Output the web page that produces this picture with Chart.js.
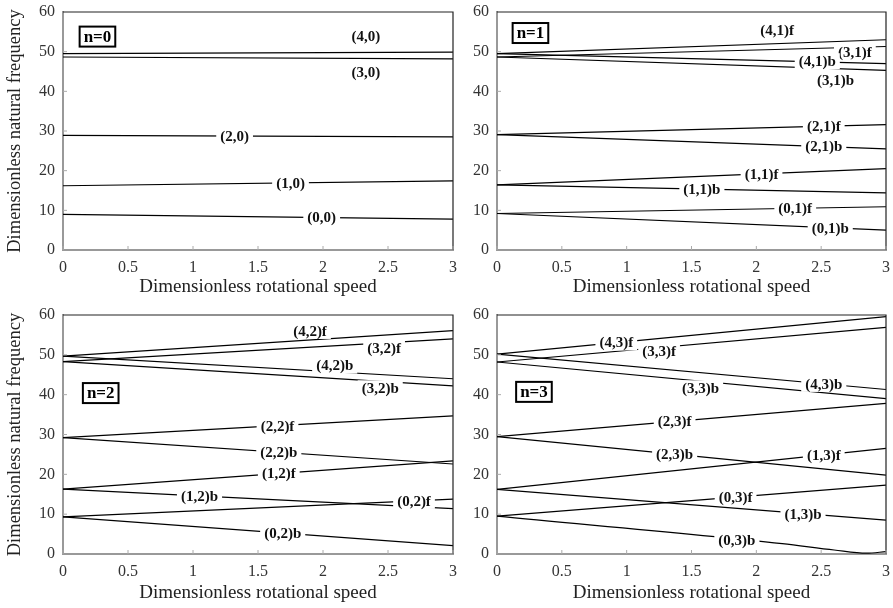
<!DOCTYPE html>
<html>
<head>
<meta charset="utf-8">
<script src="https://cdn.jsdelivr.net/npm/chart.js@4/dist/chart.umd.min.js"></script>
<style>
  body { margin: 0; background: #fff; overflow: hidden; }
  #wrap { position: relative; width: 893px; height: 608px; overflow: hidden; }
  canvas { position: absolute; }
</style>
</head>
<body>
<div id="wrap">
  <canvas id="c0" width="465" height="306" style="left:0;top:-6px"></canvas>
  <canvas id="c1" width="458" height="306" style="left:440px;top:-6px"></canvas>
  <canvas id="c2" width="465" height="311" style="left:0;top:297px"></canvas>
  <canvas id="c3" width="458" height="311" style="left:440px;top:297px"></canvas>
</div>
<script>
// ---- data ----
var xTicks = [0, 0.5, 1, 1.5, 2, 2.5, 3];
var speedEnds = [0, 3];

// n = 0
var n0Names = ['(4,0)', '(3,0)', '(2,0)', '(1,0)', '(0,0)'];
var n0Start = [49.5, 48.65, 28.9, 16.2, 9.0];
var n0End   = [49.9, 48.2, 28.5, 17.45, 7.8];
var n0LabX  = [2.33, 2.33, 1.32, 1.75, 1.99];
var n0LabY  = [53.9, 44.9, 28.7, 16.9, 8.2];

// n = 1
var n1Names = ['(4,1)f', '(3,1)f', '(4,1)b', '(3,1)b', '(2,1)f', '(2,1)b', '(1,1)f', '(1,1)b', '(0,1)f', '(0,1)b'];
var n1Start = [49.5, 48.65, 49.5, 48.65, 29.1, 29.1, 16.4, 16.4, 9.2, 9.2];
var n1End   = [53.0, 51.3, 47.0, 45.3, 31.6, 25.5, 20.5, 14.4, 10.9, 5.0];
var n1LabX  = [2.16, 2.76, 2.47, 2.61, 2.52, 2.52, 2.04, 1.58, 2.30, 2.57];
var n1LabY  = [55.5, 49.8, 47.6, 42.8, 31.2, 26.1, 19.2, 15.35, 10.5, 5.6];

// n = 2
var n2Names = ['(4,2)f', '(3,2)f', '(4,2)b', '(3,2)b', '(2,2)f', '(2,2)b', '(1,2)f', '(1,2)b', '(0,2)f', '(0,2)b'];
var n2Start = [49.7, 48.3, 49.7, 48.3, 29.2, 29.2, 16.3, 16.3, 9.3, 9.3];
var n2End   = [56.1, 54.0, 44.0, 42.2, 34.7, 22.6, 23.4, 11.4, 13.8, 2.1];
var n2LabX  = [1.90, 2.47, 2.09, 2.44, 1.65, 1.66, 1.66, 1.05, 2.70, 1.69];
var n2LabY  = [56.0, 51.6, 47.3, 41.6, 32.2, 25.55, 20.2, 14.6, 13.35, 5.25];

// n = 3 (the (0,3)b curve is read at several speeds)
var n3Names = ['(4,3)f', '(3,3)f', '(4,3)b', '(3,3)b', '(2,3)f', '(2,3)b', '(1,3)f', '(1,3)b', '(0,3)f'];
var n3Start = [50.2, 48.2, 50.2, 48.2, 29.45, 29.45, 16.2, 16.2, 9.5];
var n3End   = [59.6, 56.9, 41.3, 39.0, 37.8, 19.8, 26.5, 8.5, 17.3];
var n3LabX  = [0.92, 1.25, 2.52, 1.57, 1.37, 1.37, 2.52, 2.36, 1.84];
var n3LabY  = [53.1, 50.9, 42.7, 41.6, 33.3, 25.0, 24.85, 10.1, 14.3];
var n3CurveName = '(0,3)b';
var n3CurveX = [0, 2.2, 2.6, 2.85, 3];
var n3CurveY = [9.5, 2.6, 1.0, 0.2, 0.6];
var n3CurveLab = [1.85, 3.5];

var modeText = ['n=0', 'n=1', 'n=2', 'n=3'];
var modeBoxX = [0.265, 0.258, 0.29, 0.285];
var modeBoxY = [53.8, 54.7, 40.4, 40.7];

// ---- drawing ----
var SERIF = '"Liberation Serif", "Times New Roman", serif';

function straightSets(starts, ends) {
  return starts.map(function (s, i) {
    return [{x: speedEnds[0], y: s}, {x: speedEnds[1], y: ends[i]}];
  });
}

function lineLabels(names, xs, ys) {
  return names.map(function (t, i) { return {text: t, x: xs[i], y: ys[i]}; });
}

// curve labels with white background + frame + inner ticks + mode box
var decorPlugin = {
  id: 'decor',
  afterDatasetsDraw: function (chart) {
    var ctx = chart.ctx, a = chart.chartArea;
    var xs = chart.scales.x, ys = chart.scales.y;
    var o = chart.options.plugins.decor;
    ctx.save();
    // top & right frame
    ctx.strokeStyle = '#222';
    ctx.lineWidth = 1.2;
    ctx.beginPath();
    ctx.moveTo(a.left, a.top); ctx.lineTo(a.right, a.top); ctx.lineTo(a.right, a.bottom);
    ctx.stroke();
    // inner tick marks
    ctx.strokeStyle = '#aaa';
    ctx.lineWidth = 1;
    ctx.beginPath();
    xTicks.forEach(function (v) {
      var px = xs.getPixelForValue(v);
      ctx.moveTo(px, a.bottom); ctx.lineTo(px, a.bottom - 4);
    });
    [10, 20, 30, 40, 50].forEach(function (v) {
      var py = ys.getPixelForValue(v);
      ctx.moveTo(a.left, py); ctx.lineTo(a.left + 4, py);
    });
    ctx.stroke();
    // curve labels
    ctx.font = 'bold 15px ' + SERIF;
    ctx.textAlign = 'center';
    ctx.textBaseline = 'middle';
    o.labels.forEach(function (l) {
      var px = xs.getPixelForValue(l.x), py = ys.getPixelForValue(l.y);
      var w = ctx.measureText(l.text).width;
      ctx.fillStyle = '#fff';
      ctx.fillRect(px - w / 2 - 4, py - 8, w + 8, 16);
      ctx.fillStyle = '#111';
      ctx.fillText(l.text, px, py + 1);
    });
    // n= box
    ctx.font = 'bold 17px ' + SERIF;
    var bx = xs.getPixelForValue(o.box.x), by = ys.getPixelForValue(o.box.y);
    var bw = ctx.measureText(o.box.text).width + 8;
    ctx.fillStyle = '#fff';
    ctx.fillRect(bx - bw / 2, by - 10, bw, 20);
    ctx.strokeStyle = '#000';
    ctx.lineWidth = 2;
    ctx.strokeRect(bx - bw / 2, by - 10, bw, 20);
    ctx.fillStyle = '#000';
    ctx.fillText(o.box.text, bx, by + 1);
    ctx.restore();
  }
};

function makePanel(id, sets, labels, idx, cfg) {
  var datasets = sets.map(function (pts) {
    return {
      data: pts,
      borderColor: '#000',
      borderWidth: 1.2,
      pointRadius: 0,
      tension: pts.length > 2 ? 0.4 : 0,
      cubicInterpolationMode: pts.length > 2 ? 'monotone' : 'default'
    };
  });
  new Chart(document.getElementById(id).getContext('2d'), {
    type: 'line',
    data: {datasets: datasets},
    options: {
      responsive: false,
      animation: false,
      layout: {padding: 0},
      plugins: {
        legend: {display: false},
        tooltip: {enabled: false},
        decor: {labels: labels, box: {text: modeText[idx], x: modeBoxX[idx], y: modeBoxY[idx]}}
      },
      scales: {
        x: {
          type: 'linear', min: 0, max: 3,
          afterBuildTicks: function (s) { s.ticks = xTicks.map(function (v) { return {value: v}; }); },
          afterFit: function (s) { s.height = cfg.xh; },
          grid: {display: true, drawOnChartArea: false, drawTicks: false},
          border: {color: '#999', width: 2},
          ticks: {font: {family: SERIF, size: 16}, color: '#333', padding: 8, maxRotation: 0,
                  callback: function (v) { return String(v); }},
          title: {display: true, text: 'Dimensionless rotational speed',
                  font: {family: SERIF, size: 19}, color: '#222', padding: {top: 0, bottom: cfg.tb}}
        },
        y: {
          min: 0, max: 60,
          ticks: {stepSize: 10, font: {family: SERIF, size: 16, lineHeight: 1.25}, color: '#333', padding: 8},
          afterFit: function (s) { s.width = cfg.yw; },
          grid: {display: true, drawOnChartArea: false, drawTicks: false},
          border: {color: '#999', width: 2},
          title: {display: cfg.ytitle, text: 'Dimensionless natural frequency',
                  font: {family: SERIF, size: 18.5}, color: '#222', padding: {top: 4, bottom: 0}}
        }
      }
    },
    plugins: [decorPlugin]
  });
}

makePanel('c0', straightSets(n0Start, n0End), lineLabels(n0Names, n0LabX, n0LabY), 0,
  {xh: 50, yw: 63, tb: 2, ytitle: true});
makePanel('c1', straightSets(n1Start, n1End), lineLabels(n1Names, n1LabX, n1LabY), 1,
  {xh: 50, yw: 57, tb: 2, ytitle: false});
makePanel('c2', straightSets(n2Start, n2End), lineLabels(n2Names, n2LabX, n2LabY), 2,
  {xh: 54, yw: 63, tb: 4, ytitle: true});

var n3Sets = straightSets(n3Start, n3End);
n3Sets.push(n3CurveX.map(function (x, i) { return {x: x, y: n3CurveY[i]}; }));
var n3Labels = lineLabels(n3Names, n3LabX, n3LabY);
n3Labels.push({text: n3CurveName, x: n3CurveLab[0], y: n3CurveLab[1]});
makePanel('c3', n3Sets, n3Labels, 3,
  {xh: 54, yw: 57, tb: 4, ytitle: false});
</script>
</body>
</html>
